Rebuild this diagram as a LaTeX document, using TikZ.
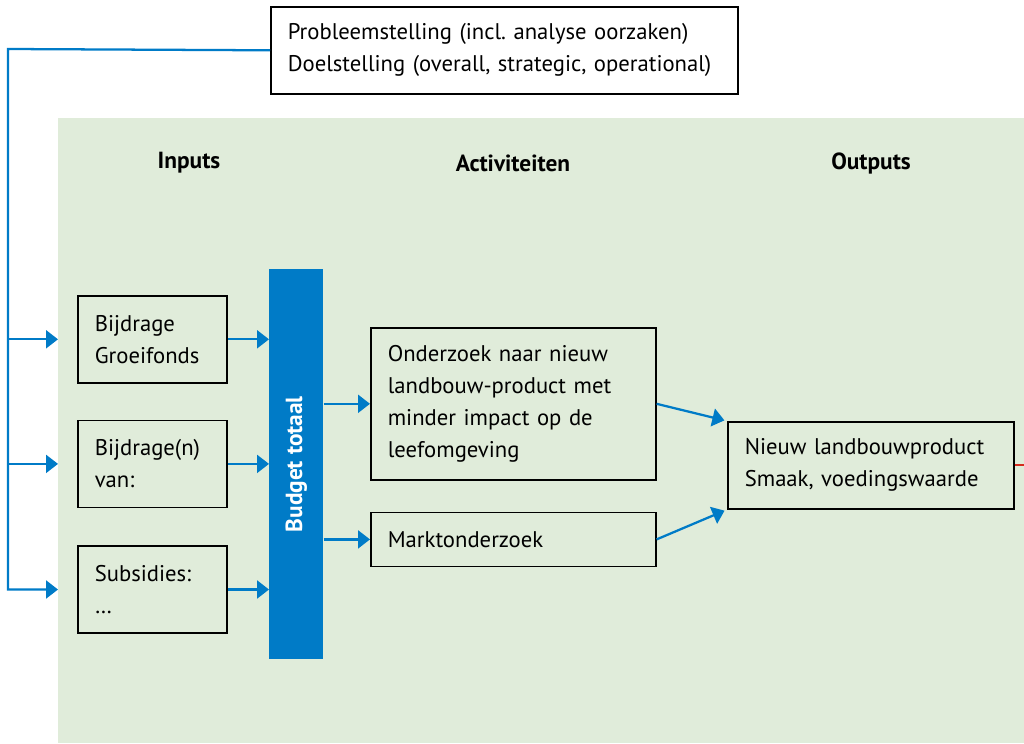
\documentclass[tikz,border=0pt]{standalone}
\usepackage{fontspec}
\setmainfont{PT Sans}
\frenchspacing
\usetikzlibrary{positioning,arrows.meta}
\definecolor{roblue}{RGB}{0,123,199}
\definecolor{rogreen}{RGB}{224,236,218}
\definecolor{rored}{RGB}{213,43,30}
\tikzset{
  every picture/.style={font=\fontsize{17}{24}\selectfont},
  box/.style={draw=black, line width=1.2pt, align=left, inner xsep=12.75pt, inner ysep=0pt, anchor=north west},
  header/.style={font=\fontsize{17.5}{24}\selectfont\bfseries},
  link/.style={draw=roblue, line width=1.7pt, -{Triangle[length=9pt,width=13.5pt]}},
}

\begin{document}
\begin{tikzpicture}[x=0.75pt,y=-0.75pt]
  \useasboundingbox (0,0) rectangle (1024,743);
  \node [fill=rogreen, inner sep=0pt, anchor=north west, minimum width=724.5pt, minimum height=468.75pt] (bg) at (58,118) {};

  \node [box, text width=324.75pt, minimum height=65.25pt] (prob) at (270,6)
  {Probleemstelling (incl. analyse oorzaken)\\Doelstelling (overall, strategic, operational)};

  \node [header] (hin) at (189,163) {Inputs};
  \node [header] (hact) at (513,163) {Activiteiten};
  \node [header] (hout) at (871,163) {Outputs};

  \node [box, text width=86.25pt, minimum height=65.25pt] (in1) at (77,295) {Bijdrage\\Groeifonds};
  \node [box, text width=86.25pt, minimum height=65.25pt, below=27pt of in1] (in2) {Bijdrage(n)\\van:};
  \node [box, text width=86.25pt, minimum height=65.25pt, below=27.75pt of in2] (in3) {Subsidies:\\…};

  \node [fill=roblue, inner sep=0pt, anchor=north west, minimum width=40.5pt, minimum height=292.5pt] (bar) at (269,269) {};
  \node [header, text=white, rotate=90] (budget) at (bar.center) {Budget totaal};

  \node [box, text width=188.25pt, minimum height=114pt] (act1) at (370,327)
  {Onderzoek naar nieuw\\landbouw-product met\\minder impact op de\\leefomgeving};
  \node [box, text width=188.25pt, minimum height=40.5pt, below=23.25pt of act1] (act2) {Marktonderzoek};

  \node [box, text width=189pt, minimum height=65.25pt] (out) at (727,421)
  {Nieuw landbouwproduct\\Smaak, voedingswaarde};

  \coordinate (rail) at (8,49);
  \draw [link] (prob.west) -- (rail) -- (rail |- in3) -- (bg.west |- in3);
  \draw [link] (rail |- in1) -- (bg.west |- in1);
  \draw [link] (rail |- in2) -- (bg.west |- in2);

  \draw [link] (in1.east) -- (in1.east -| bar.west);
  \draw [link] (in2.east) -- (in2.east -| bar.west);
  \draw [link] (in3.east) -- (in3.east -| bar.west);

  \draw [link] (bar.east |- act1) -- (act1.west);
  \draw [link] (bar.east |- act2) -- (act2.west);

  \draw [link, shorten >=2pt] (act1.east) -- (out.north west);
  \draw [link, shorten >=2pt] (act2.east) -- (out.south west);

  \draw [rored, line width=1.7pt] (out.east) -- (out.east -| bg.east);
\end{tikzpicture}
\end{document}
